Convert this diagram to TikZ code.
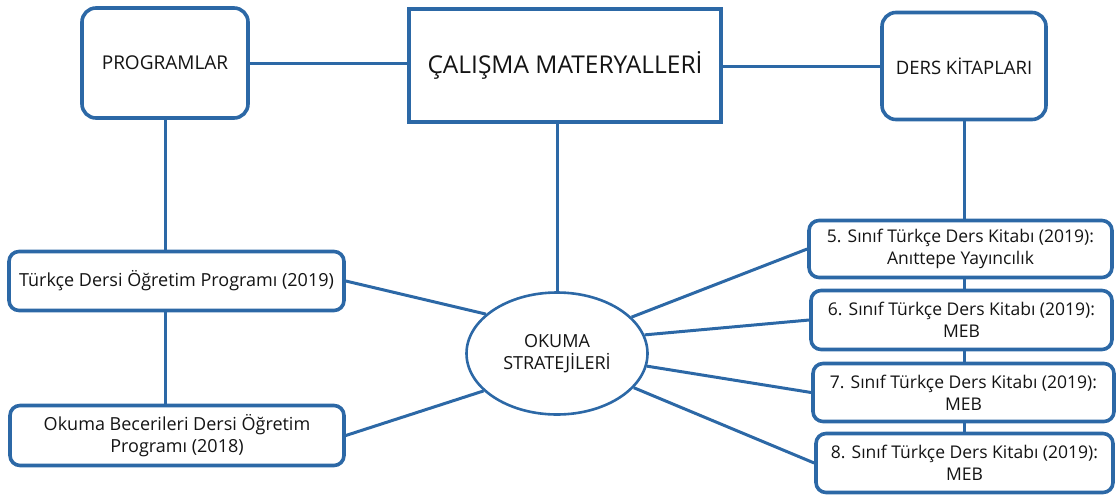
\documentclass[tikz,border=0pt]{standalone}
\usepackage{fontspec}
\setmainfont{Open Sans}
\usetikzlibrary{shapes.geometric}
\definecolor{lblue}{RGB}{44,104,166}
\definecolor{txt}{RGB}{20,20,20}
\tikzset{
  rbox/.style={draw=lblue, line width=3.6pt, rounded corners=14pt, fill=white, text=txt, align=center, inner sep=2pt},
  sbox/.style={draw=lblue, line width=3.6pt, fill=white, text=txt, align=center},
  conn/.style={draw=lblue, line width=3pt},
  ellnode/.style={draw=lblue, ellipse, line width=2.6pt, fill=white, text=txt, align=center, inner sep=0pt},
}
\begin{document}
\begin{tikzpicture}[x=1pt,y=-1pt]
\useasboundingbox (0,0) rectangle (1116,496);
% nodes
\node[rbox, minimum width=166pt, minimum height=110pt, font=\fontsize{19}{23}\selectfont] (prog) at (165,63) {PROGRAMLAR};
\node[sbox, minimum width=312pt, minimum height=113pt, font=\fontsize{24.5}{29}\selectfont] (title) at (565,65.5) {ÇALIŞMA MATERYALLERİ};
\node[rbox, minimum width=164pt, minimum height=107pt, font=\fontsize{18.5}{22}\selectfont] (ders) at (964,66) {DERS KİTAPLARI};
\node[rbox, rounded corners=10pt, minimum width=335pt, minimum height=59pt, font=\fontsize{18}{22}\selectfont] (turk) at (176.5,281) {Türkçe Dersi Öğretim Programı (2019)};
\node[rbox, rounded corners=10pt, minimum width=334pt, minimum height=60pt, font=\fontsize{18}{21.5}\selectfont] (okuma) at (177,435.5) {Okuma Becerileri Dersi Öğretim\\Programı (2018)};
\node[ellnode, minimum width=181pt, minimum height=122pt, font=\fontsize{18}{21.5}\selectfont] (ell) at (557,353.5) {OKUMA\\STRATEJİLERİ};
\node[rbox, rounded corners=10pt, minimum width=303pt, minimum height=57pt, font=\fontsize{17.5}{22}\selectfont] (b5) at (960.5,249) {5. Sınıf Türkçe Ders Kitabı (2019):\\Anıttepe Yayıncılık};
\node[rbox, rounded corners=10pt, minimum width=301pt, minimum height=59pt, font=\fontsize{17.5}{22}\selectfont] (b6) at (961.5,320) {6. Sınıf Türkçe Ders Kitabı (2019):\\MEB};
\node[rbox, rounded corners=10pt, minimum width=301pt, minimum height=58pt, font=\fontsize{17.5}{22}\selectfont] (b7) at (963.5,392.5) {7. Sınıf Türkçe Ders Kitabı (2019):\\MEB};
\node[rbox, rounded corners=10pt, minimum width=297pt, minimum height=59pt, font=\fontsize{17.5}{22}\selectfont] (b8) at (964.5,463) {8. Sınıf Türkçe Ders Kitabı (2019):\\MEB};
% connectors
\draw[conn] (prog.east) -- (prog.east -| title.west);
\draw[conn] (title.east |- ders.west) -- (ders.west);
\draw[conn] (prog.south) -- (prog.south |- turk.north);
\draw[conn] (prog.south |- turk.south) -- (prog.south |- okuma.north);
\draw[conn] (ell.north) -- (ell.north |- title.south);
\draw[conn] (ders.south) -- (ders.south |- b5.north);
\draw[conn] (ders.south |- b5.south) -- (ders.south |- b6.north);
\draw[conn] (ders.south |- b6.south) -- (ders.south |- b7.north);
\draw[conn] (ders.south |- b7.south) -- (ders.south |- b8.north);
\draw[conn] (turk.east) -- (ell.151);
\draw[conn] (okuma.east) -- (ell.207);
\draw[conn] (ell.26.6) -- (b5.west);
\draw[conn] (ell.12.8) -- (b6.west);
\draw[conn] (ell.352) -- (b7.west);
\draw[conn] (ell.336) -- (b8.west);
\end{tikzpicture}
\end{document}
